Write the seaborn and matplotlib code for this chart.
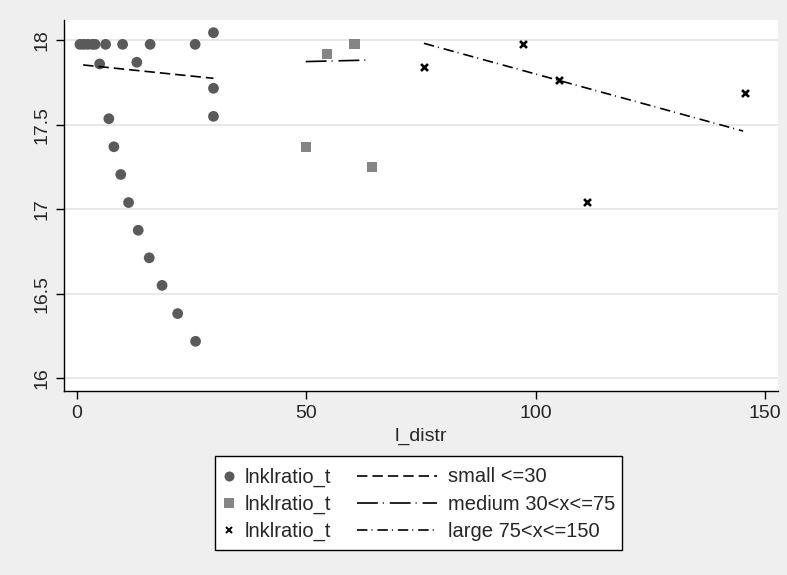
import numpy as np
import pandas as pd
import seaborn as sns
import matplotlib.pyplot as plt
from matplotlib.lines import Line2D
from matplotlib.patches import Rectangle

# data
small_x = [0.7, 1.5, 2.4, 3.4, 4.0, 6.3, 10.0, 16.0, 25.8, 5.0, 13.1, 29.8, 29.8, 29.8,
           7.0, 8.1, 9.6, 11.3, 13.4, 15.8, 18.6, 22.0, 25.9]
small_y = [17.976, 17.976, 17.976, 17.976, 17.976, 17.976, 17.976, 17.976, 17.976, 17.86, 17.87,
           18.045, 17.716, 17.55, 17.536, 17.37, 17.206, 17.04, 16.876, 16.713, 16.55, 16.383, 16.219]
medium_x = [54.5, 60.5, 49.9, 64.4]
medium_y = [17.92, 17.976, 17.37, 17.25]
large_x = [75.65, 97.3, 105.0, 145.7, 111.2]
large_y = [17.844, 17.976, 17.767, 17.686, 17.042]

# fitted lines (end points)
small_fit_x = [1.4, 29.8]
small_fit_y = [17.854, 17.775]
medium_fit_x = [49.9, 63.8]
medium_fit_y = [17.874, 17.883]
large_fit_x = [75.65, 145.2]
large_fit_y = [17.982, 17.463]

marker_labels = ['lnklratio_t', 'lnklratio_t', 'lnklratio_t']
line_labels = ['small <=30', 'medium 30<x<=75', 'large 75<x<=150']

sns.set_style("white")
plt.rcParams['font.family'] = ['Liberation Sans', 'DejaVu Sans']
plt.rcParams['lines.scale_dashes'] = False

W, H = 787, 575
bg = '#efefef'
fig = plt.figure(figsize=(7.87, 5.75), dpi=100, facecolor=bg)
ax = fig.add_axes([64 / W, 1 - 391 / H, (778 - 64) / W, (391 - 20) / H])
ax.set_facecolor('white')

sns.scatterplot(x=small_x, y=small_y, ax=ax, marker='o', s=60, color='#5a5a5a', edgecolor='none')
sns.scatterplot(x=medium_x, y=medium_y, ax=ax, marker='s', s=55, color='#858585', edgecolor='none')
sns.scatterplot(x=large_x, y=large_y, ax=ax, marker='x', s=25, color='black', linewidth=1.9)

small_dash = (7.5, 3.6)
medium_dash = (15.0, 3.6, 0.7, 4.3)
large_dash = (7.5, 2.9, 0.7, 3.6)
dashes = [small_dash, medium_dash, large_dash]
ax.plot(small_fit_x, small_fit_y, color='black', lw=1.2, dashes=small_dash)
ax.plot(medium_fit_x, medium_fit_y, color='black', lw=1.2, dashes=medium_dash)
ax.plot(large_fit_x, large_fit_y, color='black', lw=1.2, dashes=large_dash)

ax.set_xlim(-2.77, 152.8)
ax.set_ylim(15.925, 18.12)
ax.set_xticks([0, 50, 100, 150])
ax.set_yticks([16, 16.5, 17, 17.5, 18])
ax.set_yticklabels(['16', '16.5', '17', '17.5', '18'], rotation=90, va='center')
ax.grid(axis='y', color='#e4e4e4', lw=1.2)
ax.set_axisbelow(True)
for side in ['top', 'right']:
    ax.spines[side].set_visible(False)
for side in ['left', 'bottom']:
    ax.spines[side].set_color('black')
    ax.spines[side].set_linewidth(1.0)
ax.tick_params(axis='both', direction='out', length=6, width=1, color='black',
               labelsize=14, left=True, bottom=True, pad=4)
ax.set_xlabel('l_distr', fontsize=14, labelpad=4)

# legend box, Stata style: marker column and line column
fig.add_artist(Rectangle((215 / W, 1 - 549.5 / H), 407 / W, (549.5 - 456) / H,
                         transform=fig.transFigure, facecolor='white', edgecolor='black', lw=1.0))
row_y = [475.5, 502.7, 530.0]
marker_styles = [dict(marker='o', color='#5a5a5a', markersize=7.2, markeredgewidth=0),
                 dict(marker='s', color='#858585', markersize=7.0, markeredgewidth=0),
                 dict(marker='x', color='black', markersize=4.8, markeredgewidth=1.4)]
for i, y in enumerate(row_y):
    fy = 1 - y / H
    fig.add_artist(Line2D([228.5 / W], [fy], ls='none', transform=fig.transFigure, **marker_styles[i]))
    fig.text(245 / W, 1 - (y + 7) / H, marker_labels[i], fontsize=14.5, va='baseline')
    fig.add_artist(Line2D([357 / W, 437 / W], [fy, fy], color='black', lw=1.2,
                          dashes=dashes[i], transform=fig.transFigure))
    fig.text(448 / W, 1 - (y + 7) / H, line_labels[i], fontsize=14.5, va='baseline')

fig.savefig('out.png', dpi=100, facecolor=bg)
